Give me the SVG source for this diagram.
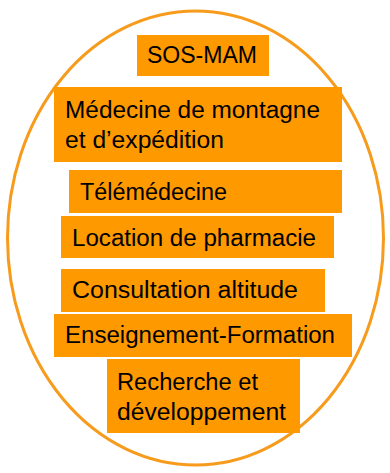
<svg xmlns="http://www.w3.org/2000/svg" width="390" height="473" viewBox="0 0 390 473">
<style>
.box{fill:#FF9900}
.t{font-family:"Liberation Sans",Arial,sans-serif;font-size:23px;fill:#000}
</style>
<rect width="390" height="473" fill="#fff"/>
<ellipse cx="195.5" cy="238" rx="188" ry="227" fill="none" stroke="#F79B1C" stroke-width="3"/>
<g id="sos-mam"><rect class="box" x="137" y="35" width="132" height="41"/><text class="t" x="147" y="63" textLength="110" lengthAdjust="spacingAndGlyphs">SOS-MAM</text></g>
<g id="medecine"><rect class="box" x="54" y="87" width="288" height="75"/><text class="t" x="65" y="118" textLength="255" lengthAdjust="spacingAndGlyphs">Médecine de montagne</text><text class="t" x="65" y="148" textLength="159" lengthAdjust="spacingAndGlyphs">et d’expédition</text></g>
<g id="telemedecine"><rect class="box" x="69" y="170" width="273" height="43"/><text class="t" x="80" y="200" textLength="147" lengthAdjust="spacingAndGlyphs">Télémédecine</text></g>
<g id="location"><rect class="box" x="61" y="216" width="273" height="42"/><text class="t" x="72" y="246" textLength="244" lengthAdjust="spacingAndGlyphs">Location de pharmacie</text></g>
<g id="consultation"><rect class="box" x="61" y="269" width="264" height="43"/><text class="t" x="72" y="298" textLength="226" lengthAdjust="spacingAndGlyphs">Consultation altitude</text></g>
<g id="enseignement"><rect class="box" x="54" y="314" width="298" height="43"/><text class="t" x="65" y="343" textLength="270" lengthAdjust="spacingAndGlyphs">Enseignement-Formation</text></g>
<g id="recherche"><rect class="box" x="107" y="359" width="193" height="74"/><text class="t" x="117" y="390" textLength="141" lengthAdjust="spacingAndGlyphs">Recherche et</text><text class="t" x="117" y="420" textLength="169" lengthAdjust="spacingAndGlyphs">développement</text></g>
<g id="connectors"/>
</svg>
